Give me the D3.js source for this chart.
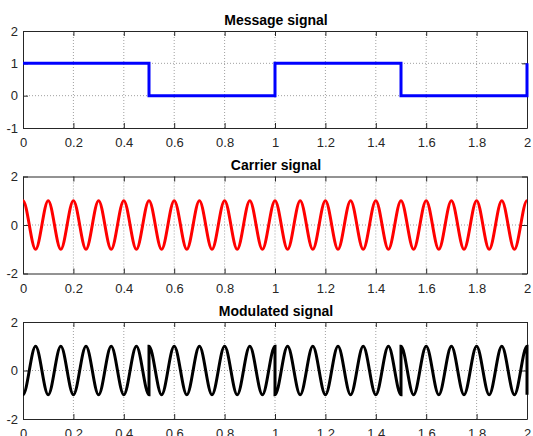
<!DOCTYPE html>
<html>
<head>
<meta charset="utf-8">
<script src="https://cdn.jsdelivr.net/npm/d3@7"></script>
<style>
  body { margin: 0; background: #fff; }
  text { font-family: "Liberation Sans", Arial, Helvetica, sans-serif; }
</style>
</head>
<body>
<svg id="chart" width="533" height="436"></svg>
<script>
// x axis ticks, shared by all three panels
const xTicks = [0, 0.2, 0.4, 0.6, 0.8, 1, 1.2, 1.4, 1.6, 1.8, 2];

// message signal: bit value held from each time on (step)
const msgTimes = [0, 0.5, 1, 1.5, 2];
const msgBits = [1, 0, 1, 0, 1];

// carrier signal: peaks and troughs
const carrierTimes = [0, 0.05, 0.1, 0.15, 0.2, 0.25, 0.3, 0.35, 0.4, 0.45, 0.5,
  0.55, 0.6, 0.65, 0.7, 0.75, 0.8, 0.85, 0.9, 0.95, 1,
  1.05, 1.1, 1.15, 1.2, 1.25, 1.3, 1.35, 1.4, 1.45, 1.5,
  1.55, 1.6, 1.65, 1.7, 1.75, 1.8, 1.85, 1.9, 1.95, 2];
const carrierValues = [1, -1, 1, -1, 1, -1, 1, -1, 1, -1, 1,
  -1, 1, -1, 1, -1, 1, -1, 1, -1, 1,
  -1, 1, -1, 1, -1, 1, -1, 1, -1, 1,
  -1, 1, -1, 1, -1, 1, -1, 1, -1, 1];

// modulated signal: extrema, with phase jumps at the bit edges
const modTimes = [0, 0.05, 0.1, 0.15, 0.2, 0.25, 0.3, 0.35, 0.4, 0.45, 0.5,
  0.5, 0.55, 0.6, 0.65, 0.7, 0.75, 0.8, 0.85, 0.9, 0.95, 1,
  1, 1.05, 1.1, 1.15, 1.2, 1.25, 1.3, 1.35, 1.4, 1.45, 1.5,
  1.5, 1.55, 1.6, 1.65, 1.7, 1.75, 1.8, 1.85, 1.9, 1.95, 2,
  2];
const modValues = [-1, 1, -1, 1, -1, 1, -1, 1, -1, 1, -1,
  1, -1, 1, -1, 1, -1, 1, -1, 1, -1, 1,
  -1, 1, -1, 1, -1, 1, -1, 1, -1, 1, -1,
  1, -1, 1, -1, 1, -1, 1, -1, 1, -1, 1,
  -1];

// cubic through each point with a flat tangent there (peaks / troughs)
function curveFlat(context) {
  let prev = null;
  return {
    areaStart() {}, areaEnd() {},
    lineStart() { prev = null; },
    lineEnd() {},
    point(px, py) {
      px = +px; py = +py;
      if (prev === null) context.moveTo(px, py);
      else {
        let h = (px - prev[0]) / 3;
        context.bezierCurveTo(prev[0] + h, prev[1], px - h, py, px, py);
      }
      prev = [px, py];
    }
  };
}

const panels = [
  { title: "Message signal", top: 31, yDomain: [-1, 2], yTicks: [-1, 0, 1, 2],
    times: msgTimes, values: msgBits, color: "#0000ff", curve: d3.curveStepAfter },
  { title: "Carrier signal", top: 176.5, yDomain: [-2, 2], yTicks: [-2, 0, 2],
    times: carrierTimes, values: carrierValues, color: "#ff0000", curve: curveFlat },
  { title: "Modulated signal", top: 322, yDomain: [-2, 2], yTicks: [-2, 0, 2],
    times: modTimes, values: modValues, color: "#000000", curve: curveFlat }
];

const left = 23, right = 527, panelH = 97;
const svg = d3.select("#chart");

let x = d3.scaleLinear().domain([0, 2]).range([left, right]);

panels.forEach(function(p) {
  let y = d3.scaleLinear().domain(p.yDomain).range([p.top + panelH, p.top]);
  let g = svg.append("g");

  // dotted grid
  g.append("g").selectAll("line")
    .data(xTicks.slice(1, -1))
    .join("line")
    .attr("x1", d => x(d)).attr("x2", d => x(d))
    .attr("y1", p.top).attr("y2", p.top + panelH)
    .attr("stroke", "#a0a0a0").attr("stroke-dasharray", "1,2");
  g.append("g").selectAll("line")
    .data(p.yTicks.slice(1, -1))
    .join("line")
    .attr("x1", left).attr("x2", right)
    .attr("y1", d => y(d)).attr("y2", d => y(d))
    .attr("stroke", "#a0a0a0").attr("stroke-dasharray", "1,2");

  // axes on all four sides, ticks pointing in
  g.append("g")
    .attr("transform", `translate(0,${p.top + panelH})`)
    .call(d3.axisBottom(x).tickValues(xTicks).tickSizeInner(-5).tickSizeOuter(0).tickPadding(10).tickFormat(d3.format("")));
  g.append("g")
    .attr("transform", `translate(0,${p.top})`)
    .call(d3.axisTop(x).tickValues(xTicks).tickSizeInner(-5).tickSizeOuter(0).tickFormat(""));
  let leftAx = g.append("g")
    .attr("transform", `translate(${left},0)`)
    .call(d3.axisLeft(y).tickValues(p.yTicks).tickSizeInner(-5).tickSizeOuter(0).tickPadding(5).tickFormat(d3.format("")));
  g.append("g")
    .attr("transform", `translate(${right},0)`)
    .call(d3.axisRight(y).tickValues(p.yTicks).tickSizeInner(-5).tickSizeOuter(0).tickFormat(""));

  g.selectAll(".domain").attr("stroke", "#262626");
  g.selectAll(".tick line").attr("stroke", "#262626");
  g.selectAll(".tick text")
    .attr("font-family", "Liberation Sans, Arial, sans-serif")
    .attr("font-size", 13)
    .attr("fill", "#262626");
  leftAx.selectAll(".tick text").text(d => d < 0 ? "-" + Math.abs(d) : d);

  // signal
  let line = d3.line()
    .x((d, i) => x(p.times[i]))
    .y(d => y(d))
    .curve(p.curve);
  g.append("path")
    .attr("d", line(p.values))
    .attr("fill", "none")
    .attr("stroke", p.color)
    .attr("stroke-width", 3);

  // title
  g.append("text")
    .attr("x", (left + right) / 2 + 1)
    .attr("y", p.top - 6.5)
    .attr("text-anchor", "middle")
    .attr("font-size", 14)
    .attr("font-weight", "bold")
    .attr("fill", "#000")
    .text(p.title);
});
</script>
</body>
</html>
